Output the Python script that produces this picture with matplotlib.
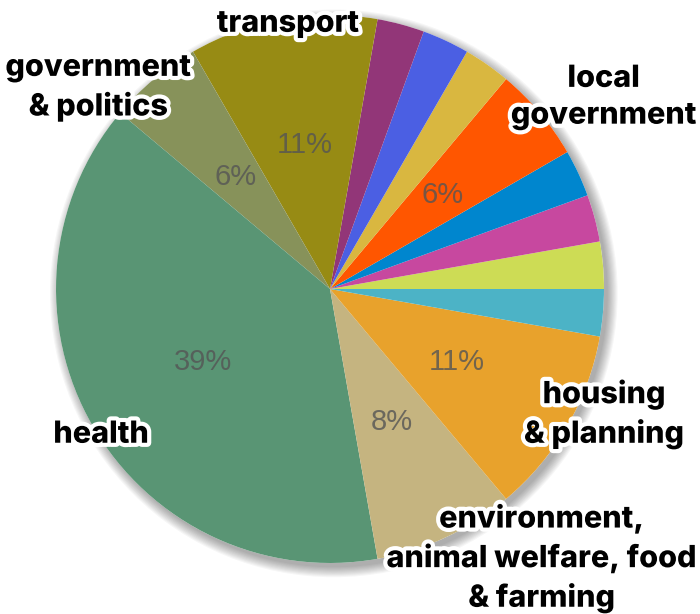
import numpy as np
import matplotlib
matplotlib.use("Agg")
import matplotlib.pyplot as plt
import matplotlib.patheffects as pe
from matplotlib.patches import Circle

# counter-clockwise from 3 o'clock
topics = ["", "", "", "local\ngovernment", "", "", "", "transport",
          "government\n& politics", "health",
          "environment,\nanimal welfare, food\n& farming",
          "housing\n& planning", ""]
counts = [1, 1, 1, 2, 1, 1, 1, 4, 2, 14, 3, 4, 1]
colours = ["#CDDC55", "#C7489F", "#0086CE", "#FF5600", "#D9B740", "#4B5FE3",
           "#923678", "#978B14", "#87925A", "#599574", "#C5B480", "#E8A22C",
           "#4CB3C6"]

# label placement (angle in degrees, distance in radii) for named topics
label_pos = {
    "transport": (99, 0.98),
    "government\n& politics": (139, 1.12),
    "local\ngovernment": (35, 1.22),
    "health": (212.5, 0.99),
    "housing\n& planning": (335.5, 1.10),
    "environment,\nanimal welfare, food\n& farming": (308.2, 1.25),
}

fig = plt.figure(figsize=(7, 6.14), dpi=100)
ax = fig.add_axes([0, 0, 1, 1])

# soft drop shadow
for k in range(10):
    ax.add_patch(Circle((0.014, -0.016), 1.0 + k * 0.004, color="black",
                        alpha=0.035, lw=0, zorder=0))
ax.add_patch(Circle((0, 0), 1.0, color="white", lw=0, zorder=0.5))

wedges, texts = ax.pie(counts, colors=colours, startangle=0, counterclock=True,
                       radius=1.0, wedgeprops=dict(linewidth=0))
ax.set_xlim(-1.2044, 1.3504)
ax.set_ylim(-1.1861, 1.0547)
ax.axis("off")

total = sum(counts)
for w, c in zip(wedges, counts):
    w.set_zorder(1)
    p = 100 * c / total
    if p >= 5:
        mid = np.deg2rad((w.theta1 + w.theta2) / 2)
        ax.text(0.535 * np.cos(mid), 0.535 * np.sin(mid), f"{p:.0f}%",
                ha="center", va="center", fontsize=21, color="#555555",
                alpha=0.8, family="Liberation Sans", zorder=2)

for name, (ang, dist) in label_pos.items():
    a = np.deg2rad(ang)
    ax.text(dist * np.cos(a), dist * np.sin(a), name, ha="center",
            va="center", fontsize=22, fontweight="heavy", family="Inter",
            linespacing=1.4, color="black", zorder=3,
            path_effects=[pe.withStroke(linewidth=6, foreground="white")])

fig.savefig("out.png", dpi=100)
